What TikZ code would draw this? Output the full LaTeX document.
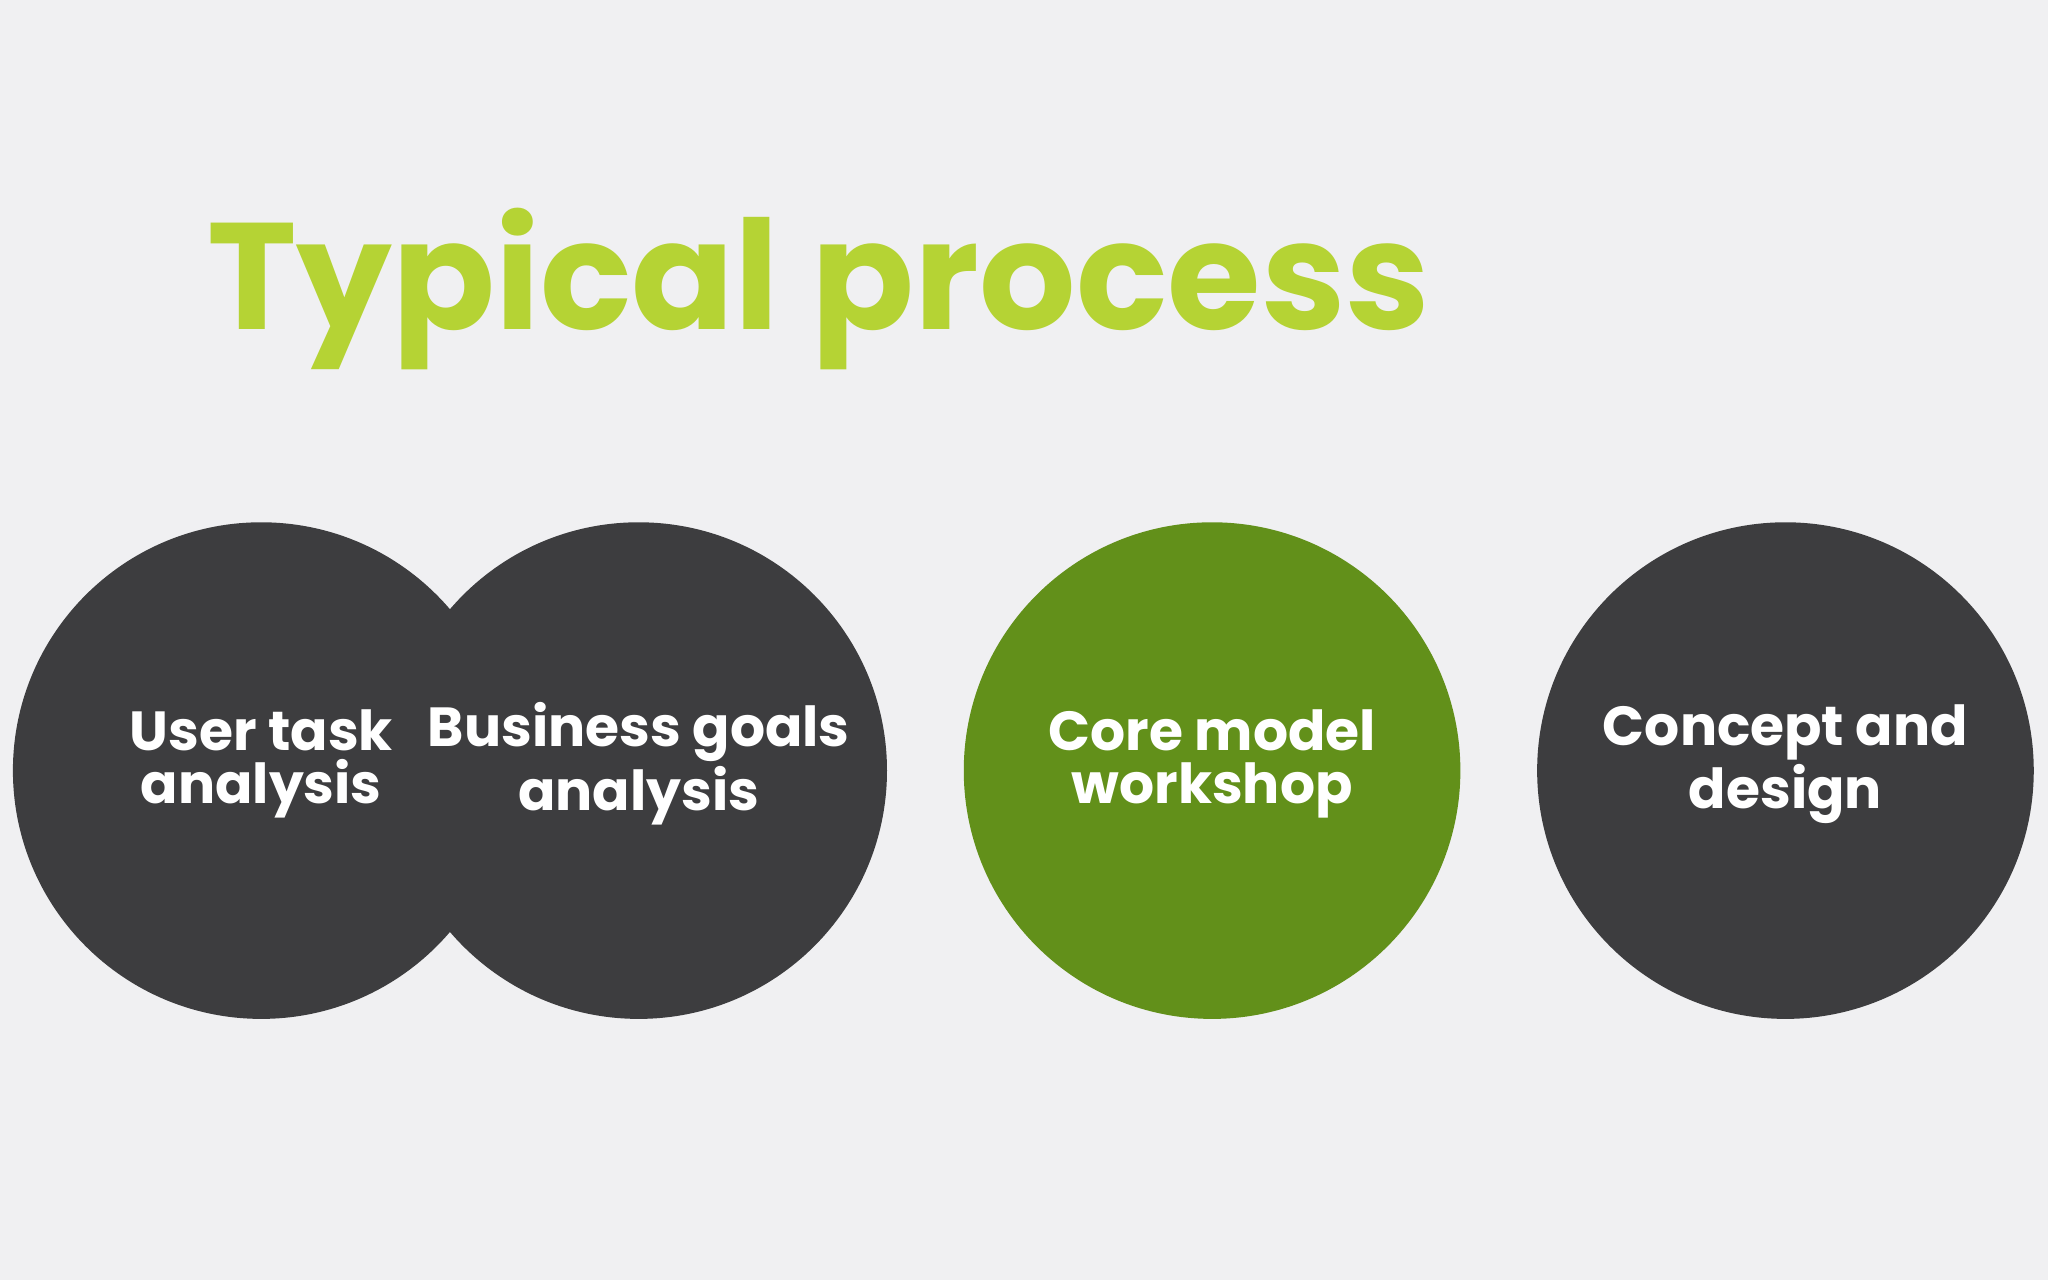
\documentclass[tikz,border=0pt]{standalone}
\usepackage{fontspec}
\setmainfont{Poppins}
\definecolor{bgc}{HTML}{F0F0F2}
\definecolor{darkc}{HTML}{3D3D3F}
\definecolor{greenc}{HTML}{62901A}
\definecolor{titlec}{HTML}{B5D334}
\begin{document}
\begin{tikzpicture}[x=0.01cm,y=-0.01cm,
  stage/.style={circle,minimum size=3.8cm,inner sep=0pt},
  lbl/.style={text=white,font=\bfseries\fontsize{12}{11.4}\selectfont,align=center}]
\fill[bgc] (0,0) rectangle (1568,980);
\useasboundingbox (0,0) rectangle (1568,980);
\node[anchor=base west,inner sep=0pt,text=titlec,font=\bfseries\fontsize{33}{36}\selectfont] (title) at (158,252) {Typical process};
\node[stage,fill=darkc] (c1) at (200,590) {};
\node[stage,fill=darkc] (c2) at (489,590) {};
\node[stage,fill=greenc] (c3) at (928,590) {};
\node[stage,fill=darkc] (c4) at (1367,590) {};
\node[lbl] (t1) at (200,585) {User task\\analysis};
\node[lbl] (t2) at (489,585) {Business goals\\analysis};
\node[lbl] (t3) at (928,585) {Core model\\workshop};
\node[lbl] (t4) at (1367,585) {Concept and\\design};
\end{tikzpicture}
\end{document}
